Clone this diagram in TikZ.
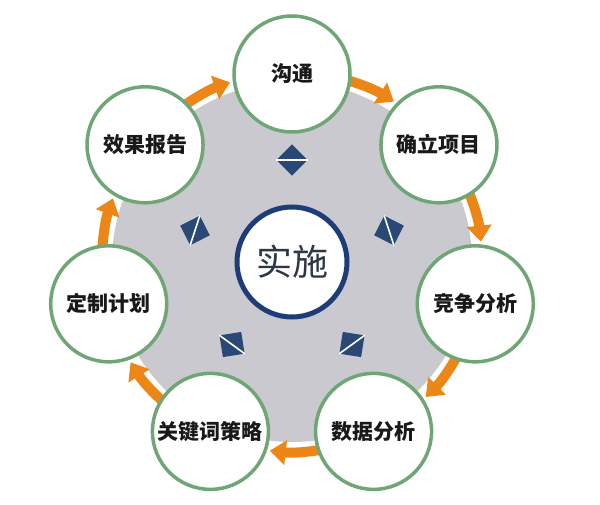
\documentclass[tikz,border=0pt]{standalone}
\usepackage{fontspec}
\newfontfamily\cjk{Noto Sans CJK SC}
\usetikzlibrary{arrows.meta}
\definecolor{ringgreen}{RGB}{112,166,118}
\definecolor{arrorange}{RGB}{236,134,22}
\definecolor{bggray}{RGB}{201,201,207}
\definecolor{navy}{RGB}{30,60,120}
\definecolor{diablue}{RGB}{42,72,118}
\definecolor{centertext}{RGB}{45,55,70}
\begin{document}
\begin{tikzpicture}[x=1pt,y=1pt,
  bubble/.style={circle, draw=ringgreen, line width=3.5pt, fill=white, minimum size=116pt, inner sep=0pt,
    font=\cjk\bfseries\fontsize{21}{24}\selectfont, text=black!90},
  hub/.style={circle, draw=navy, line width=5pt, fill=white, minimum size=110pt, inner sep=0pt,
    font=\cjk\fontsize{36}{40}\selectfont, text=centertext},
  pyr/.style={rectangle, fill=diablue, minimum size=22pt, inner sep=0pt},
  flow/.style={draw=arrorange, line width=10pt, -{Triangle[width=24pt,length=16pt]}},
]
\fill[white] (0,0) rectangle (600,504);
\useasboundingbox (0,0) rectangle (600,504);
\coordinate (C) at (292,242);
\fill[bggray] (C) circle[radius=180];
% arrows
\foreach \i in {0,...,6} {
  \pgfmathsetmacro\s{90-360/7*\i-12}
  \pgfmathsetmacro\e{90-360/7*(\i+1)+19}
  \draw[flow] (C) ++(\s:190) arc[start angle=\s, end angle=\e, radius=190];
}
% pyramids
\foreach \k in {0,...,4} {
  \pgfmathsetmacro\a{90+72*\k}
  \pgfmathsetmacro\r{\a-45}
  \path (C) ++(\a:102) node[pyr, rotate=\r] (d\k) {};
  \draw[white, line width=1.6pt] (d\k.north west) -- (d\k.south east);
}
\node[hub] (hub) at (C) {实施};
\path (C) ++(90:188) node[bubble] (b1) {沟通};
\path (C) ++(90-360/7:188) node[bubble] (b2) {确立项目};
\path (C) ++(90-720/7:188) node[bubble] (b3) {竞争分析};
\path (C) ++(90-1080/7:188) node[bubble] (b4) {数据分析};
\path (C) ++(90-1440/7:188) node[bubble] (b5) {关键词策略};
\path (C) ++(90-1800/7:188) node[bubble] (b6) {定制计划};
\path (C) ++(90-2160/7:188) node[bubble] (b7) {效果报告};
\end{tikzpicture}
\end{document}
